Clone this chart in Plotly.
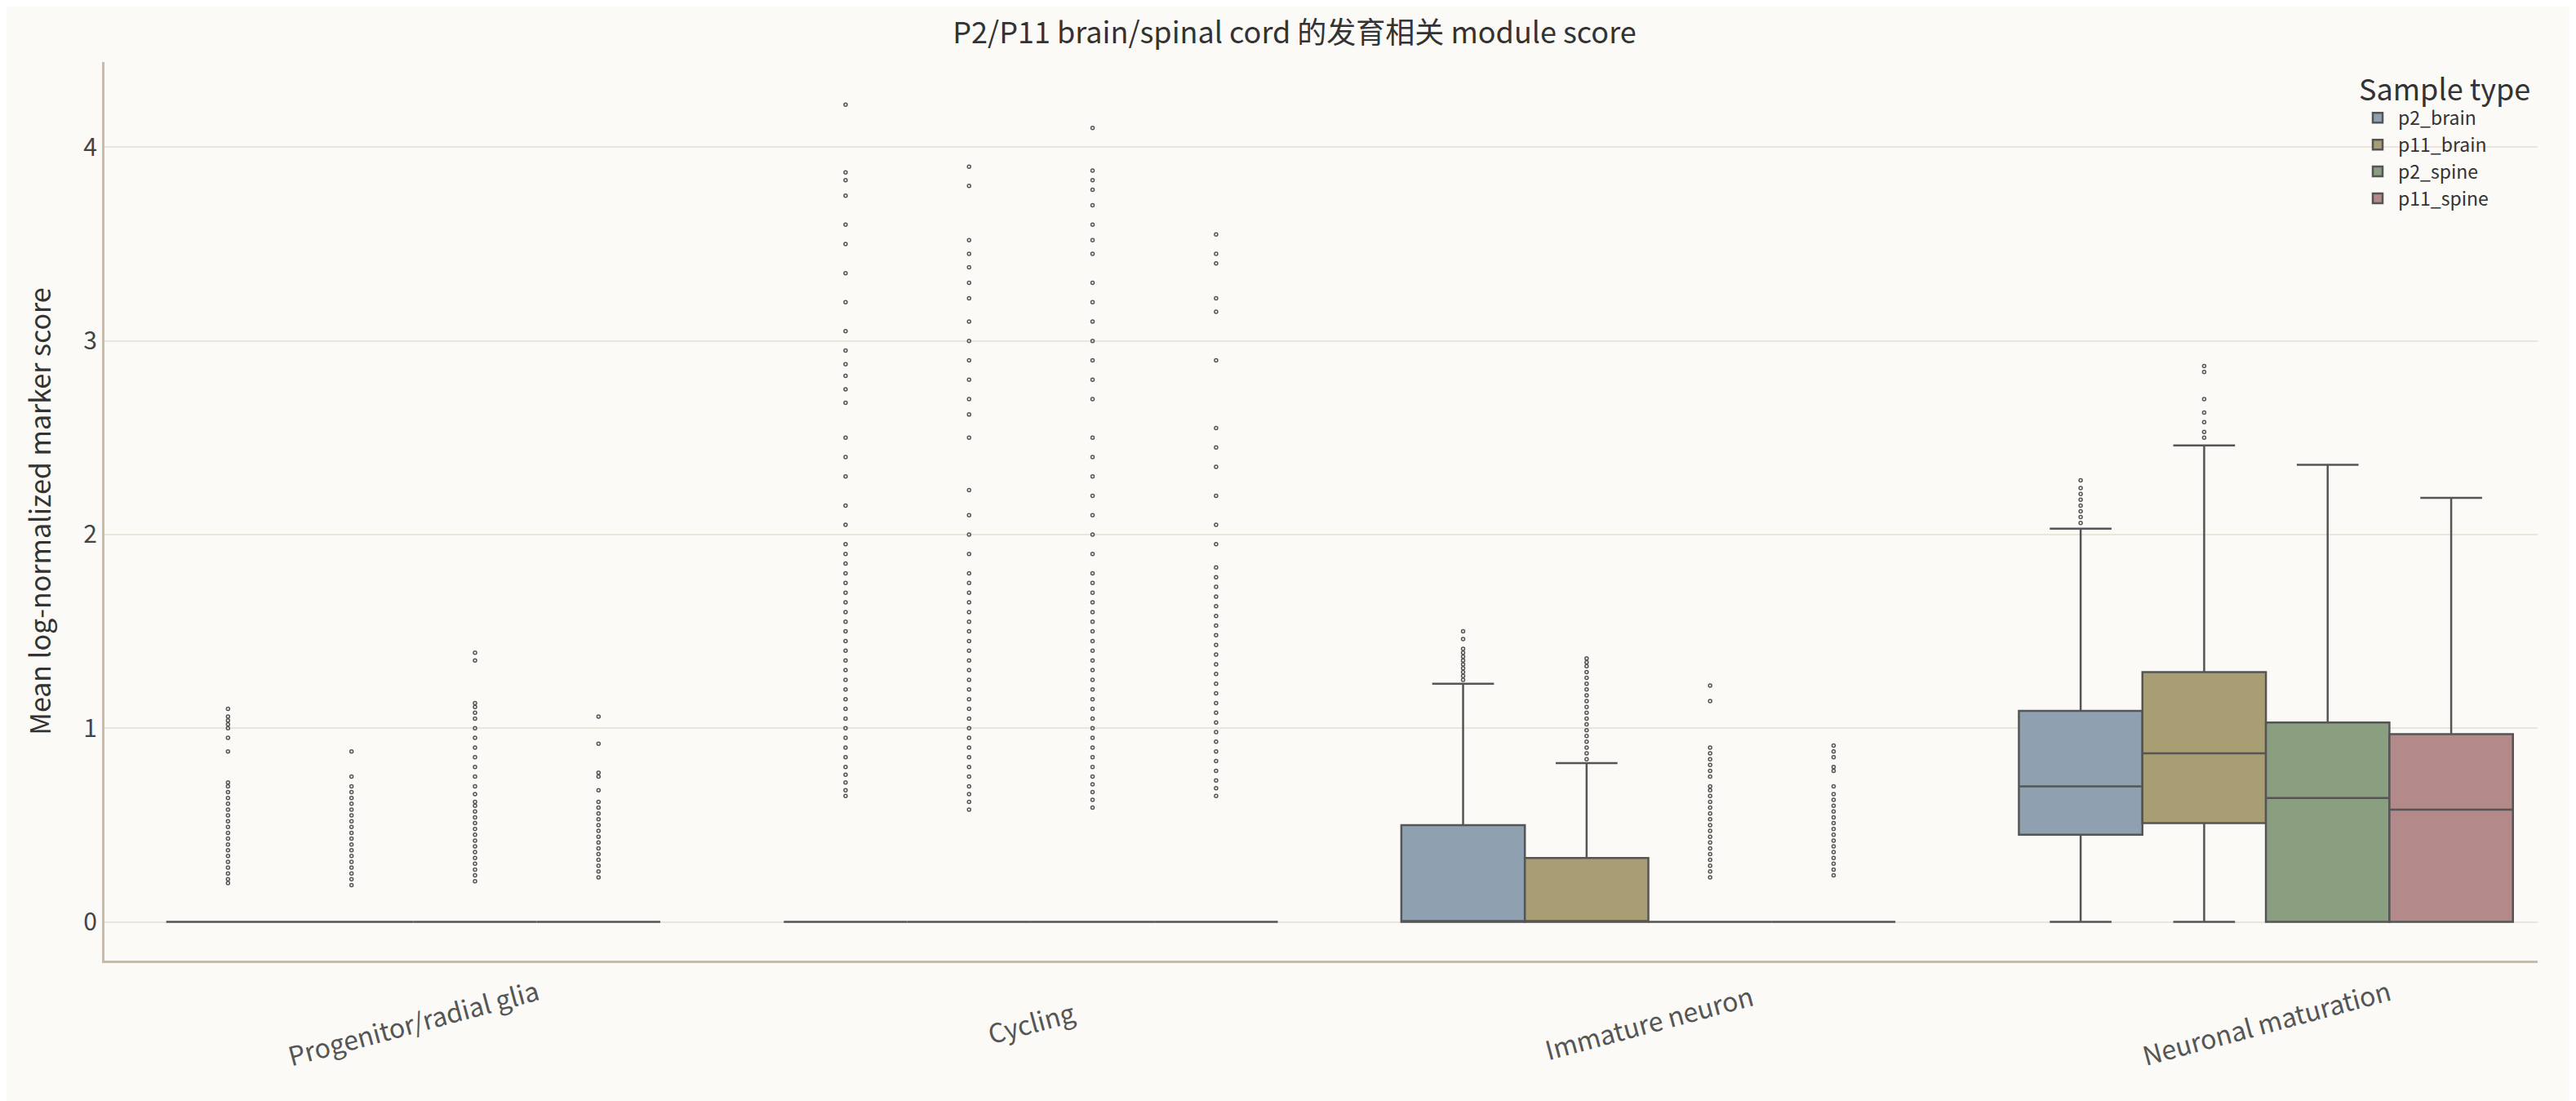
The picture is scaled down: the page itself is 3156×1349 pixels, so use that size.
import plotly.graph_objects as go

categories = ["Progenitor/radial glia", "Cycling", "Immature neuron", "Neuronal maturation"]
samples = ["p2_brain", "p11_brain", "p2_spine", "p11_spine"]
colors = ["#8fa1b0", "#a99d74", "#8a9e80", "#b38a89"]

# stats per sample, per category: [lowerfence, q1, median, q3, upperfence]
stats = {
    "p2_brain":  [[0, 0, 0, 0, 0], [0, 0, 0, 0, 0], [0, 0, 0, 0.50, 1.23], [0, 0.45, 0.70, 1.09, 2.03]],
    "p11_brain": [[0, 0, 0, 0, 0], [0, 0, 0, 0, 0], [0, 0, 0, 0.33, 0.82], [0, 0.51, 0.87, 1.29, 2.46]],
    "p2_spine":  [[0, 0, 0, 0, 0], [0, 0, 0, 0, 0], [0, 0, 0, 0, 0], [0, 0, 0.64, 1.03, 2.36]],
    "p11_spine": [[0, 0, 0, 0, 0], [0, 0, 0, 0, 0], [0, 0, 0, 0, 0], [0, 0, 0.58, 0.97, 2.19]],
}

outliers = {
    "p2_brain": [
        [0.20, 0.22, 0.25, 0.28, 0.31, 0.34, 0.37, 0.40, 0.43, 0.46, 0.49, 0.52, 0.55, 0.58, 0.61, 0.64, 0.67, 0.70, 0.72, 0.88, 0.95, 1.00, 1.02, 1.04, 1.06, 1.10],
        [0.65, 0.68, 0.72, 0.76, 0.80, 0.85, 0.90, 0.95, 1.00, 1.05, 1.10, 1.15, 1.20, 1.25, 1.30, 1.35, 1.40, 1.45, 1.50, 1.55, 1.60, 1.65, 1.70, 1.75, 1.80, 1.85, 1.90, 1.95, 2.05, 2.15, 2.30, 2.40, 2.50, 2.68, 2.75, 2.82, 2.88, 2.95, 3.05, 3.20, 3.35, 3.50, 3.60, 3.75, 3.83, 3.87, 4.22],
        [1.25, 1.27, 1.29, 1.31, 1.33, 1.35, 1.37, 1.39, 1.41, 1.46, 1.50],
        [2.06, 2.09, 2.12, 2.15, 2.18, 2.21, 2.24, 2.28],
    ],
    "p11_brain": [
        [0.19, 0.22, 0.25, 0.28, 0.31, 0.34, 0.37, 0.40, 0.43, 0.46, 0.49, 0.52, 0.55, 0.58, 0.61, 0.64, 0.67, 0.70, 0.75, 0.88],
        [0.58, 0.62, 0.66, 0.70, 0.75, 0.80, 0.85, 0.90, 0.95, 1.00, 1.05, 1.10, 1.15, 1.20, 1.25, 1.30, 1.35, 1.40, 1.45, 1.50, 1.55, 1.60, 1.65, 1.70, 1.75, 1.80, 1.90, 2.00, 2.10, 2.23, 2.50, 2.62, 2.70, 2.80, 2.90, 3.00, 3.10, 3.22, 3.30, 3.38, 3.45, 3.52, 3.80, 3.90],
        [0.84, 0.87, 0.90, 0.93, 0.96, 0.99, 1.02, 1.05, 1.08, 1.11, 1.14, 1.17, 1.20, 1.23, 1.26, 1.29, 1.32, 1.34, 1.36],
        [2.50, 2.53, 2.58, 2.63, 2.70, 2.84, 2.87],
    ],
    "p2_spine": [
        [0.21, 0.24, 0.27, 0.30, 0.33, 0.36, 0.39, 0.42, 0.45, 0.48, 0.51, 0.54, 0.57, 0.60, 0.62, 0.66, 0.70, 0.75, 0.80, 0.85, 0.90, 0.95, 1.00, 1.05, 1.08, 1.11, 1.13, 1.35, 1.39],
        [0.59, 0.63, 0.67, 0.71, 0.75, 0.80, 0.85, 0.90, 0.95, 1.00, 1.05, 1.10, 1.15, 1.20, 1.25, 1.30, 1.35, 1.40, 1.45, 1.50, 1.55, 1.60, 1.65, 1.70, 1.75, 1.80, 1.90, 2.00, 2.10, 2.20, 2.30, 2.40, 2.50, 2.70, 2.80, 2.90, 3.00, 3.10, 3.20, 3.30, 3.45, 3.52, 3.60, 3.70, 3.78, 3.83, 3.88, 4.10],
        [0.23, 0.26, 0.29, 0.32, 0.35, 0.38, 0.41, 0.44, 0.47, 0.50, 0.53, 0.56, 0.59, 0.62, 0.65, 0.68, 0.70, 0.75, 0.78, 0.81, 0.84, 0.87, 0.90, 1.14, 1.22],
        [],
    ],
    "p11_spine": [
        [0.23, 0.26, 0.29, 0.32, 0.35, 0.38, 0.41, 0.44, 0.47, 0.50, 0.53, 0.56, 0.59, 0.62, 0.68, 0.75, 0.77, 0.92, 1.06],
        [0.65, 0.69, 0.73, 0.78, 0.83, 0.88, 0.93, 0.98, 1.03, 1.08, 1.13, 1.18, 1.23, 1.28, 1.33, 1.38, 1.43, 1.48, 1.53, 1.58, 1.63, 1.68, 1.73, 1.78, 1.83, 1.95, 2.05, 2.20, 2.35, 2.45, 2.55, 2.90, 3.15, 3.22, 3.40, 3.45, 3.55],
        [0.24, 0.27, 0.30, 0.33, 0.36, 0.39, 0.42, 0.45, 0.48, 0.51, 0.54, 0.57, 0.60, 0.63, 0.66, 0.70, 0.78, 0.80, 0.85, 0.88, 0.91],
        [],
    ],
}

offsets = [-0.3, -0.1, 0.1, 0.3]
line_c = "#555555"
font = "Noto Sans CJK SC"

fig = go.Figure()
for si, s in enumerate(samples):
    xs = [ci + offsets[si] for ci in range(len(categories))]
    st = stats[s]
    fig.add_trace(go.Box(
        x=xs, lowerfence=[v[0] for v in st], q1=[v[1] for v in st], median=[v[2] for v in st],
        q3=[v[3] for v in st], upperfence=[v[4] for v in st],
        width=0.2, whiskerwidth=0.5, fillcolor=colors[si], line=dict(color=line_c, width=2.5),
        name=s, boxpoints=False, legendgroup=s))
    ox, oy = [], []
    for ci in range(len(categories)):
        for v in outliers[s][ci]:
            ox.append(ci + offsets[si]); oy.append(v)
    fig.add_trace(go.Scatter(
        x=ox, y=oy, mode="markers", showlegend=False, legendgroup=s, hoverinfo="y",
        marker=dict(symbol="circle-open", size=4, color=line_c, line=dict(width=1.5, color=line_c))))

for ci, c in enumerate(categories):
    fig.add_annotation(x=ci, xref="x", y=0, yref="paper", yshift=-75, text=c, showarrow=False,
                       textangle=-15, xanchor="center", yanchor="middle",
                       font=dict(size=32, color="#555555"))

fig.update_layout(
    width=3156, height=1349,
    paper_bgcolor="#fbfaf6", plot_bgcolor="#fbfaf6",
    font=dict(family=font, color="#333333", size=30),
    title=dict(text="P2/P11 brain/spinal cord 的发育相关 module score", x=0.5, xanchor="center", y=0.985, font=dict(size=36)),
    margin=dict(l=120, r=55, t=68, b=180),
    showlegend=True,
    legend=dict(title=dict(text="Sample type", font=dict(size=36)), x=0.998, xanchor="right", y=1.0, yanchor="top",
                bgcolor="rgba(0,0,0,0)", font=dict(size=23), tracegroupgap=0, itemwidth=40),
    xaxis=dict(range=[-0.5, 3.44], tickvals=list(range(len(categories))), ticktext=[""] * len(categories),
               showgrid=False, zeroline=False, showline=True, linecolor="#c8bba8", linewidth=3, ticks=""),
    yaxis=dict(range=[-0.2, 4.44], tickvals=[0, 1, 2, 3, 4], showgrid=True, gridcolor="#ebe5dc", gridwidth=2,
               zeroline=False, showline=True, linecolor="#c8bba8", linewidth=3,
               title=dict(text="Mean log-normalized marker score", font=dict(size=34), standoff=30),
               tickfont=dict(size=30, color="#444444"), ticks=""),
)
fig.write_html("out.html")
